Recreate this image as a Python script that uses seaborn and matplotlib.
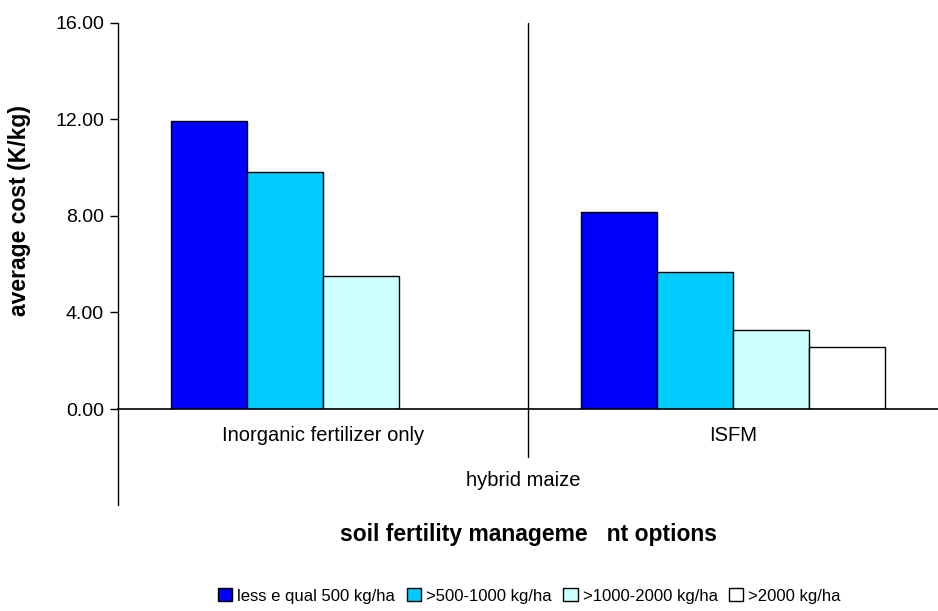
import matplotlib
matplotlib.use("Agg")
import matplotlib.pyplot as plt
from matplotlib.lines import Line2D
import pandas as pd
import seaborn as sns

# values
options = ["Inorganic fertilizer only", "ISFM"]
yield_classes = ["less e qual 500 kg/ha", ">500-1000 kg/ha", ">1000-2000 kg/ha", ">2000 kg/ha"]
inorganic_cost = [11.95, 9.82, 5.52, None]
isfm_cost = [8.16, 5.67, 3.28, 2.58]
bar_colors = ["#0000FF", "#00CCFF", "#CCFFFF", "#FFFFFF"]

rows = []
for opt, vals in zip(options, [inorganic_cost, isfm_cost]):
    for cls, v in zip(yield_classes, vals):
        if v is not None:
            rows.append({"option": opt, "class": cls, "cost": v})
df = pd.DataFrame(rows)

sns.set_style("white")
plt.rcParams["font.family"] = ["Liberation Sans", "DejaVu Sans"]
plt.rcParams["text.color"] = "black"
plt.rcParams["axes.labelcolor"] = "black"
plt.rcParams["xtick.color"] = "black"
plt.rcParams["ytick.color"] = "black"

fig = plt.figure(figsize=(9.38, 6.11), dpi=100)
ax = fig.add_axes([0.1258, 0.3306, 0.8742, 0.6318])

sns.barplot(data=df, x="option", y="cost", hue="class", order=options, hue_order=yield_classes,
            palette=bar_colors, width=0.74, edgecolor="black", linewidth=1, saturation=1,
            errorbar=None, ax=ax, legend=True)

ax.set_ylim(0, 16)
ax.set_xlim(-0.5, 1.5)
ax.set_yticks([0, 4, 8, 12, 16])
ax.set_yticklabels([f"{v:.2f}" for v in [0, 4, 8, 12, 16]], fontsize=14)
ax.tick_params(axis="y", direction="out", length=6, width=1, color="black", pad=4, left=True)
ax.tick_params(axis="x", length=0, pad=12, labelsize=14.5)
ax.set_xlabel("")
ax.set_ylabel("average cost (K/kg)", fontsize=16.5, fontweight="bold")
ax.yaxis.set_label_coords(-0.106, 0.515)

for s in ["top", "right", "left"]:
    ax.spines[s].set_visible(False)
ax.spines["bottom"].set_color("black")
ax.spines["bottom"].set_linewidth(1.2)

# extended y axis and group separator (multi-level category axis)
ax.add_line(Line2D([0, 0], [1, -0.249], transform=ax.transAxes, color="black", lw=1, clip_on=False))
ax.add_line(Line2D([0.5, 0.5], [1, -0.124], transform=ax.transAxes, color="black", lw=1, clip_on=False))

ax.text(0.494, -0.1865, "hybrid maize", transform=ax.transAxes, ha="center", va="center", fontsize=14.5)
ax.text(0.501, -0.326, "soil fertility manageme   nt options", transform=ax.transAxes, ha="center",
        va="center", fontsize=16.5, fontweight="bold")

handles, labels = ax.get_legend_handles_labels()
ax.legend(handles, labels, loc="center", bbox_to_anchor=(0.502, -0.484), ncol=4, frameon=False,
          fontsize=12, handlelength=0.85, handleheight=0.85, handletextpad=0.3, columnspacing=0.7)

fig.savefig("out.png", dpi=100)
